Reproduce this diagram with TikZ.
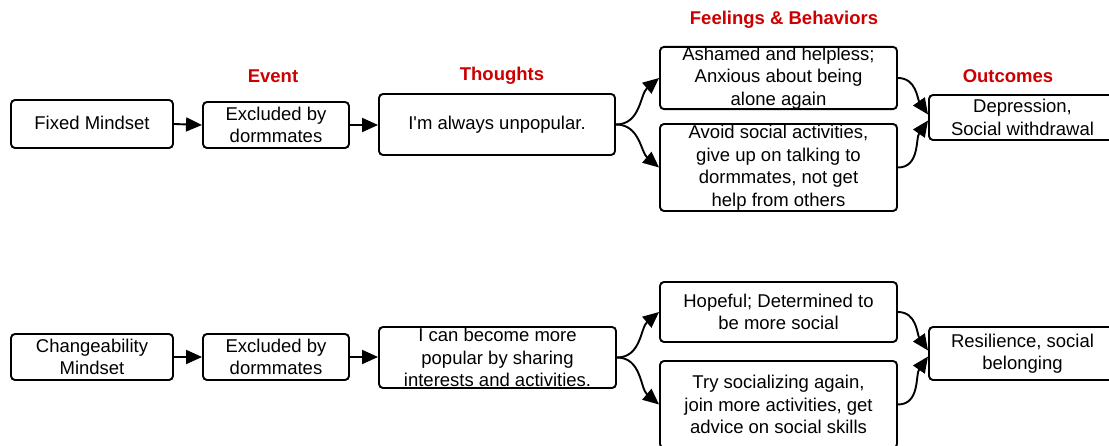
\documentclass[tikz,border=0pt]{standalone}
\usepackage{fontspec}
\setmainfont{Liberation Sans}
\usetikzlibrary{arrows.meta}
\definecolor{headred}{HTML}{CC0000}
\tikzset{
  box/.style={draw, rounded corners=4pt, line width=1.9pt, align=center,
    inner sep=0pt, font=\fontsize{18.5}{22.5}\selectfont},
  head/.style={text=headred, font=\fontsize{18.5}{22}\selectfont\bfseries},
  link/.style={line width=1.9pt, -{Triangle[length=16pt,width=14pt]}},
}
\begin{document}
\begin{tikzpicture}[x=1pt,y=-1pt]
\clip (0,0) rectangle (1109,446);
\fill[white] (0,0) rectangle (1109,446);

% column headings
\node[head] (hEvent) at (273,76) {Event};
\node[head] (hThoughts) at (502,76) {Thoughts};
\node[head] (hFeel) at (784,20) {Feelings \& Behaviors};
\node[head] (hOut) at (1008,76) {Outcomes};

% fixed mindset chain
\node[box, minimum width=162pt, minimum height=48pt] (fm) at (92,124) {\raisebox{2pt}{Fixed Mindset}};
\node[box, minimum width=146pt, minimum height=46pt] (exA) at (276,125) {Excluded by\\dormmates};
\node[box, minimum width=236pt, minimum height=61pt] (thA) at (497,124.5) {I\textquotesingle m always unpopular.};
\node[box, minimum width=237pt, minimum height=62pt] (ash) at (778.5,78) {Ashamed and helpless;\\Anxious about being\\alone again};
\node[box, minimum width=237pt, minimum height=87pt] (avoid) at (778.5,167.5) {Avoid social activities,\\give up on talking to\\dormmates, not get\\help from others};
\node[box, minimum width=187pt, minimum height=45pt] (dep) at (1022.5,117.5) {Depression,\\Social withdrawal};

% changeability mindset chain
\node[box, minimum width=162pt, minimum height=46pt] (cm) at (92,357) {Changeability\\Mindset};
\node[box, minimum width=146pt, minimum height=46pt] (exB) at (276,357) {Excluded by\\dormmates};
\node[box, minimum width=237pt, minimum height=61pt] (thB) at (497.5,357.5) {I can become more\\popular by sharing\\interests and activities.};
\node[box, minimum width=237pt, minimum height=60pt] (hope) at (778.5,312) {Hopeful; Determined to\\be more social};
\node[box, minimum width=237pt, minimum height=87pt] (try) at (778.5,404.5) {Try socializing again,\\join more activities, get\\advice on social skills};
\node[box, minimum width=187pt, minimum height=53pt] (res) at (1022.5,353.5) {Resilience, social\\belonging};

% connectors, top row
\draw[link] (fm.east) -- (exA.west);
\draw[link] (exA.east) -- (exA.east -| thA.west);
\draw[link] (thA.east) to[out=0,in=220] (ash.west);
\draw[link] (thA.east) to[out=0,in=140] (avoid.west);
\draw[link] (ash.east) to[out=0,in=125] ([yshift=3pt]dep.west);
\draw[link] (avoid.east) to[out=0,in=235] ([yshift=-3pt]dep.west);

% connectors, bottom row
\draw[link] (cm.east) -- (exB.west);
\draw[link] (exB.east) -- (exB.east -| thB.west);
\draw[link] (thB.east) to[out=0,in=220] (hope.west);
\draw[link] (thB.east) to[out=0,in=140] (try.west);
\draw[link] (hope.east) to[out=0,in=125] ([yshift=3pt]res.west);
\draw[link] (try.east) to[out=0,in=235] ([yshift=-3pt]res.west);
\end{tikzpicture}
\end{document}
